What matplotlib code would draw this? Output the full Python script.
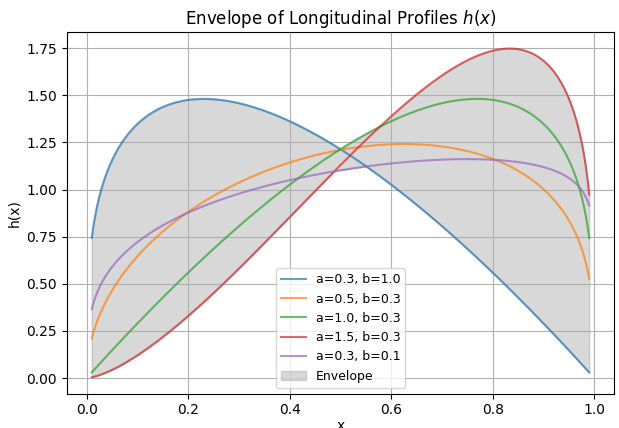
import numpy as np
import matplotlib
matplotlib.use("Agg")
import matplotlib.pyplot as plt
from math import gamma

# Profile parameters (from legend)
a_vals = [0.3, 0.5, 1.0, 1.5, 0.3]
b_vals = [1.0, 0.3, 0.3, 0.3, 0.1]
x_start, x_end, n_pts = 0.01, 0.99, 400
title = "Envelope of Longitudinal Profiles $h(x)$"

x = np.linspace(x_start, x_end, n_pts)

def profile(x, a, b):
    B = gamma(a + 1) * gamma(b + 1) / gamma(a + b + 2)
    return x**a * (1 - x)**b / B

fig, ax = plt.subplots(figsize=(6.19, 4.28), dpi=100)
curves = []
for a, b in zip(a_vals, b_vals):
    y = profile(x, a, b)
    curves.append(y)
    ax.plot(x, y, alpha=0.7, label=f"a={a}, b={b}")
curves = np.array(curves)
ax.fill_between(x, curves.min(axis=0), curves.max(axis=0), color="gray", alpha=0.3, label="Envelope")
ax.set_title(title)
ax.set_xlabel("x", labelpad=1)
ax.set_ylabel("h(x)")
ax.grid(True)
ax.legend(loc="lower center", fontsize=9)
fig.subplots_adjust(left=0.108, right=0.992, top=0.925, bottom=0.08)
fig.savefig("out.png")
